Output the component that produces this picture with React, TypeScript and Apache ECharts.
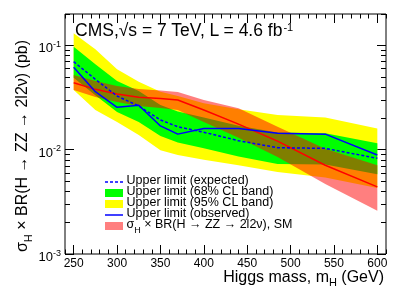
import React, { useEffect, useRef } from 'react';
import * as echarts from 'echarts';

// ---- data ----
const masses = [250, 275, 300, 325, 350, 370, 400, 440, 485, 540, 600];
const expected = [0.0698, 0.0473, 0.0327, 0.0262, 0.0193, 0.0166, 0.0147, 0.0122, 0.01045, 0.0103, 0.00827];
const observed = [0.0617, 0.036, 0.0255, 0.0267, 0.0169, 0.0141, 0.016, 0.016, 0.0144, 0.0141, 0.0089];
const band68Up = [0.097, 0.066, 0.0455, 0.0366, 0.0268, 0.0232, 0.0204, 0.017, 0.0146, 0.0144, 0.0115];
const band68Down = [0.049, 0.0332, 0.023, 0.0184, 0.0135, 0.0117, 0.0103, 0.0086, 0.0073, 0.0072, 0.0058];
const band95Up = [0.131, 0.092, 0.059, 0.0449, 0.036, 0.0327, 0.0279, 0.0244, 0.0215, 0.0204, 0.016];
const band95Down = [0.0374, 0.024, 0.0184, 0.0138, 0.0099, 0.0089, 0.008, 0.0071, 0.0061, 0.0054, 0.0043];
const smCentral = [0.0439, 0.0379, 0.0342, 0.0318, 0.031, 0.030, 0.024, 0.0176, 0.0121, 0.0071, 0.0044];
const smUp = [0.052, 0.0456, 0.0408, 0.0382, 0.0369, 0.0357, 0.030, 0.025, 0.0166, 0.0102, 0.0071];
const smDown = [0.0374, 0.032, 0.0287, 0.0262, 0.0251, 0.024, 0.0184, 0.013, 0.0085, 0.0047, 0.0026];

const xMin = 240;
const xMax = 610;
const xMajorTicks = [250, 300, 350, 400, 450, 500, 550, 600];
const xMinorTicks = [240, 250, 260, 270, 280, 290, 300, 310, 320, 330, 340, 350, 360, 370, 380, 390, 400, 410, 420, 430, 440, 450, 460, 470, 480, 490, 500, 510, 520, 530, 540, 550, 560, 570, 580, 590, 600, 610];
const yMin = 0.001;
const yMax = 0.2;
const yDecadeExponents = [-3, -2, -1];
const yMinorMultipliers = [2, 3, 4, 5, 6, 7, 8, 9];

const legendLabels = [
  'Upper limit (expected)',
  'Upper limit (68% CL band)',
  'Upper limit (95% CL band)',
  'Upper limit (observed)',
];

const FONT = '"Liberation Sans", Arial, Helvetica, sans-serif';
const BLUE = '#0000ff';
const RED = '#ff0000';
const HATCH = 'rgba(255,0,0,0.5)';
const GREEN = '#00ff00';
const YELLOW = '#ffff00';

function bandSeries(upper: number[], lower: number[], fill: any) {
  return {
    type: 'custom',
    coordinateSystem: 'cartesian2d',
    xAxisIndex: 0,
    yAxisIndex: 0,
    silent: true,
    data: [[masses[0], upper[0]]],
    renderItem: (_params: any, api: any) => {
      const pts: number[][] = [];
      for (let i = 0; i < masses.length; i++) pts.push(api.coord([masses[i], upper[i]]));
      for (let i = masses.length - 1; i >= 0; i--) pts.push(api.coord([masses[i], lower[i]]));
      return { type: 'polygon', shape: { points: pts }, style: { fill, stroke: null, lineWidth: 0 } };
    },
  };
}

export default function App() {
  const ref = useRef<HTMLDivElement>(null);
  useEffect(() => {
    if (!ref.current) return;
    const chart = echarts.init(ref.current, null, { renderer: 'svg', width: 407, height: 292 });

    const yTop = Math.log10(yMax);
    const yBottom = Math.log10(yMin);
    const yMinor: number[] = [];
    yDecadeExponents.forEach((n) => {
      yMinorMultipliers.forEach((k) => {
        const v = Math.log10(k) + n;
        if (v <= yTop + 1e-9) yMinor.push(v);
      });
    });

    const tickStyle = { color: '#000', width: 1 };
    const xAx = (pos: string, vals: number[], len: number, labels: boolean) => ({
      type: 'value',
      min: xMin,
      max: xMax,
      position: pos,
      axisLine: { show: false, onZero: false },
      splitLine: { show: false },
      axisTick: { show: true, inside: true, length: len, customValues: vals, lineStyle: tickStyle },
      axisLabel: labels
        ? { show: true, customValues: xMajorTicks, margin: 3, fontSize: 12, color: '#000', fontFamily: FONT }
        : { show: false },
    });
    const yAx = (pos: string, vals: number[], len: number, labels: boolean) => ({
      type: 'value',
      min: yBottom,
      max: yTop,
      position: pos,
      axisLine: { show: false, onZero: false },
      splitLine: { show: false },
      axisTick: { show: true, inside: true, length: len, customValues: vals, lineStyle: tickStyle },
      axisLabel: labels
        ? {
            show: true,
            customValues: yDecadeExponents,
            margin: 4,
            formatter: (v: number) => `{b|10}{s|${Math.round(v)}}`,
            rich: {
              b: { fontSize: 13, lineHeight: 17, padding: [5, 0, 0, 0], color: '#000', fontFamily: FONT },
              s: { fontSize: 9, lineHeight: 17, padding: [0, 0, 3, 0], color: '#000', fontFamily: FONT },
            },
          }
        : { show: false },
    });

    const legendY0 = 180;
    const legendDy = 11;
    const symX = 105;
    const symW = 18;
    const txtX = 126.5;
    const legendGraphics: any[] = [];
    legendGraphics.push({
      type: 'line',
      shape: { x1: symX, y1: legendY0 + 2, x2: symX + symW, y2: legendY0 + 2 },
      style: { stroke: BLUE, lineWidth: 1.5, lineDash: [3, 2] },
    });
    legendGraphics.push({
      type: 'rect',
      shape: { x: symX, y: legendY0 + legendDy + 2 - 4, width: symW, height: 8 },
      style: { fill: GREEN },
    });
    legendGraphics.push({
      type: 'rect',
      shape: { x: symX, y: legendY0 + 2 * legendDy + 2 - 4, width: symW, height: 8 },
      style: { fill: YELLOW },
    });
    legendGraphics.push({
      type: 'line',
      shape: { x1: symX, y1: legendY0 + 3 * legendDy + 2, x2: symX + symW, y2: legendY0 + 3 * legendDy + 2 },
      style: { stroke: BLUE, lineWidth: 1.5 },
    });
    legendGraphics.push({
      type: 'rect',
      shape: { x: symX, y: legendY0 + 4 * legendDy + 2 - 4, width: symW, height: 8 },
      style: { fill: HATCH },
    });
    legendLabels.forEach((t, i) => {
      legendGraphics.push({
        type: 'text',
        x: txtX,
        y: legendY0 + i * legendDy,
        style: { text: t, font: `12.5px ${FONT}`, fill: '#000', align: 'left', verticalAlign: 'middle' },
      });
    });
    legendGraphics.push({
      type: 'text',
      x: txtX,
      y: legendY0 + 4 * legendDy,
      style: {
        text: '{n|σ}{sub|H}{n| × BR(H → ZZ → 2l2ν), SM}',
        align: 'left',
        verticalAlign: 'middle',
        rich: {
          n: { fontSize: 12.5, lineHeight: 14, fontFamily: FONT, fill: '#000' },
          sub: { fontSize: 9, lineHeight: 14, padding: [12, 0, 0, 0], fontFamily: FONT, fill: '#000' },
        },
      },
    });

    const option: any = {
      animation: false,
      grid: {
        left: 65,
        top: 14,
        right: 21,
        bottom: 38,
        show: true,
        borderColor: '#000',
        borderWidth: 1,
        backgroundColor: 'transparent',
      },
      xAxis: [
        xAx('bottom', xMajorTicks, 9, true),
        xAx('bottom', xMinorTicks, 4.5, false),
        xAx('top', xMajorTicks, 9, false),
        xAx('top', xMinorTicks, 4.5, false),
      ],
      yAxis: [
        { type: 'log', logBase: 10, min: yMin, max: yMax, show: false },
        yAx('left', yDecadeExponents, 9, true),
        yAx('left', yMinor, 5, false),
        yAx('right', yDecadeExponents, 9, false),
        yAx('right', yMinor, 5, false),
      ],
      series: [
        bandSeries(band95Up, band95Down, YELLOW),
        bandSeries(band68Up, band68Down, GREEN),
        bandSeries(smUp, smDown, HATCH),
        {
          type: 'line',
          xAxisIndex: 0,
          yAxisIndex: 0,
          silent: true,
          symbol: 'none',
          data: masses.map((m, i) => [m, smCentral[i]]),
          lineStyle: { color: RED, width: 1.5 },
        },
        {
          type: 'line',
          xAxisIndex: 0,
          yAxisIndex: 0,
          silent: true,
          symbol: 'none',
          data: masses.map((m, i) => [m, expected[i]]),
          lineStyle: { color: BLUE, width: 1.5, type: [3, 2] },
        },
        {
          type: 'line',
          xAxisIndex: 0,
          yAxisIndex: 0,
          silent: true,
          symbol: 'none',
          data: masses.map((m, i) => [m, observed[i]]),
          lineStyle: { color: BLUE, width: 1.5 },
        },
      ],
      graphic: [
        {
          type: 'text',
          x: 75,
          y: 30,
          style: {
            text: '{n|CMS,√s = 7 TeV, L = 4.6 fb}{sup|-1}',
            align: 'left',
            verticalAlign: 'middle',
            rich: {
              n: { fontSize: 17.5, lineHeight: 18, fontFamily: FONT, fill: '#000' },
              sup: { fontSize: 11, lineHeight: 18, padding: [0, 0, 6, 0], fontFamily: FONT, fill: '#000' },
            },
          },
        },
        {
          type: 'text',
          x: 384,
          y: 276,
          style: {
            text: '{n|Higgs mass, m}{sub|H}{n| (GeV)}',
            align: 'right',
            verticalAlign: 'middle',
            rich: {
              n: { fontSize: 16, lineHeight: 17, fontFamily: FONT, fill: '#000' },
              sub: { fontSize: 11, lineHeight: 17, padding: [12, 0, 0, 0], fontFamily: FONT, fill: '#000' },
            },
          },
        },
        {
          type: 'text',
          x: 21,
          y: 146,
          rotation: Math.PI / 2,
          style: {
            text: '{n|σ}{sub|H}{n| × BR(H → ZZ → 2l2ν) (pb)}',
            align: 'center',
            verticalAlign: 'middle',
            rich: {
              n: { fontSize: 16, lineHeight: 17, fontFamily: FONT, fill: '#000' },
              sub: { fontSize: 11, lineHeight: 17, padding: [14, 0, 0, 0], fontFamily: FONT, fill: '#000' },
            },
          },
        },
        ...legendGraphics,
      ],
    };
    chart.setOption(option);
    return () => chart.dispose();
  }, []);
  return <div ref={ref} style={{ position: 'fixed', left: 0, top: 0, width: 407, height: 292 }} />;
}
